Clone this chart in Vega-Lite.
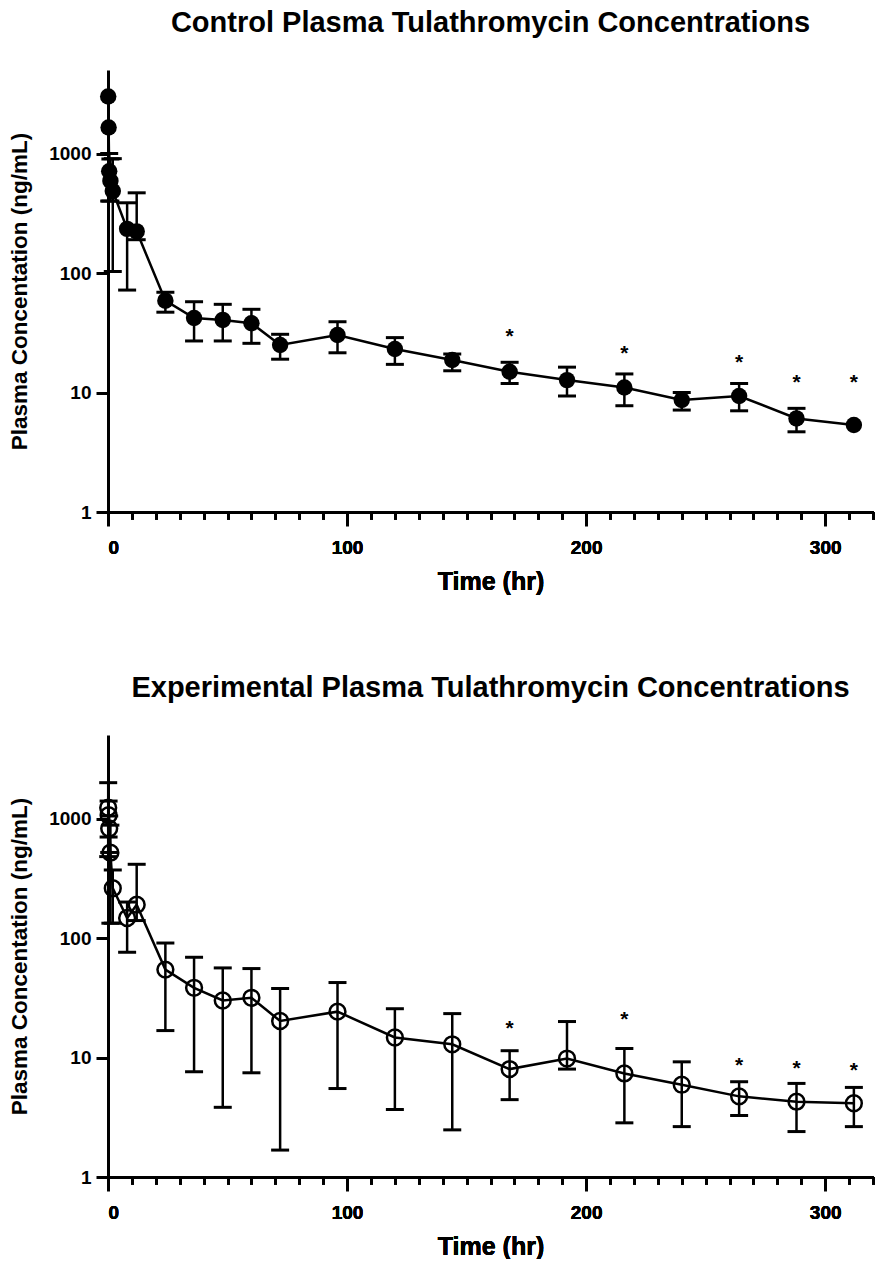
{
  "$schema": "https://vega.github.io/schema/vega-lite/v6.json",
  "background": "white",
  "padding": {"left": 8, "top": 9, "right": 0, "bottom": 0},
  "spacing": 80,
  "datasets": {
    "control": [
      {"t": 0.083, "c": 3000, "lo": null, "hi": null, "star": null},
      {"t": 0.25, "c": 1650, "lo": null, "hi": null, "star": null},
      {"t": 0.5, "c": 710, "lo": 400, "hi": 1000, "star": null},
      {"t": 1, "c": 590, "lo": 400, "hi": 900, "star": null},
      {"t": 2, "c": 485, "lo": 103, "hi": 906, "star": null},
      {"t": 8, "c": 234, "lo": 72, "hi": 387, "star": null},
      {"t": 12, "c": 223, "lo": 190, "hi": 469, "star": null},
      {"t": 24, "c": 58.7, "lo": 47, "hi": 69, "star": null},
      {"t": 36, "c": 42, "lo": 27, "hi": 57.5, "star": null},
      {"t": 48, "c": 40.5, "lo": 27, "hi": 54.7, "star": null},
      {"t": 60, "c": 38, "lo": 25.8, "hi": 49.7, "star": null},
      {"t": 72, "c": 25, "lo": 19, "hi": 30.7, "star": null},
      {"t": 96, "c": 30.3, "lo": 21.5, "hi": 39.1, "star": null},
      {"t": 120, "c": 23.1, "lo": 17.2, "hi": 28.8, "star": null},
      {"t": 144, "c": 18.7, "lo": 15.2, "hi": 21, "star": null},
      {"t": 168, "c": 14.9, "lo": 11.9, "hi": 17.9, "star": 32.4},
      {"t": 192, "c": 12.7, "lo": 9.35, "hi": 16.3, "star": null},
      {"t": 216, "c": 11.0, "lo": 7.75, "hi": 14.3, "star": 23.0},
      {"t": 240, "c": 8.65, "lo": 7.13, "hi": 10, "star": null},
      {"t": 264, "c": 9.35, "lo": 7.03, "hi": 11.9, "star": 19.6},
      {"t": 288, "c": 6.07, "lo": 4.69, "hi": 7.37, "star": 13.2},
      {"t": 312, "c": 5.34, "lo": null, "hi": null, "star": 13.2}
    ],
    "experimental": [
      {"t": 0.083, "c": 1230, "lo": 480, "hi": 1995, "star": null},
      {"t": 0.25, "c": 1066, "lo": 700, "hi": 1400, "star": null},
      {"t": 0.5, "c": 826, "lo": 520, "hi": 1050, "star": null},
      {"t": 1, "c": 518, "lo": 133, "hi": 880, "star": null},
      {"t": 2, "c": 261, "lo": 133, "hi": 371, "star": null},
      {"t": 8, "c": 147, "lo": 76, "hi": 200, "star": null},
      {"t": 12, "c": 190, "lo": 140, "hi": 414, "star": null},
      {"t": 24, "c": 54.4, "lo": 16.8, "hi": 90.8, "star": null},
      {"t": 36, "c": 38.3, "lo": 7.6, "hi": 69, "star": null},
      {"t": 48, "c": 30.0, "lo": 3.83, "hi": 56.2, "star": null},
      {"t": 60, "c": 31.6, "lo": 7.45, "hi": 55.5, "star": null},
      {"t": 72, "c": 20.2, "lo": 1.68, "hi": 37.8, "star": null},
      {"t": 96, "c": 24.2, "lo": 5.5, "hi": 42.4, "star": null},
      {"t": 120, "c": 14.7, "lo": 3.67, "hi": 25.6, "star": null},
      {"t": 144, "c": 12.9, "lo": 2.48, "hi": 23.3, "star": null},
      {"t": 168, "c": 8.0, "lo": 4.44, "hi": 11.4, "star": 18.9},
      {"t": 192, "c": 9.8, "lo": 8, "hi": 20, "star": null},
      {"t": 216, "c": 7.36, "lo": 2.84, "hi": 11.9, "star": 22.7},
      {"t": 240, "c": 5.92, "lo": 2.64, "hi": 9.2, "star": null},
      {"t": 264, "c": 4.73, "lo": 3.27, "hi": 6.27, "star": 9.4},
      {"t": 288, "c": 4.27, "lo": 2.4, "hi": 6.07, "star": 8.8},
      {"t": 312, "c": 4.14, "lo": 2.64, "hi": 5.62, "star": 8.5}
    ]
  },
  "config": {
    "view": {"stroke": null},
    "font": "Liberation Sans",
    "axis": {
      "grid": false,
      "domainColor": "black",
      "domainWidth": 3,
      "tickColor": "black",
      "tickWidth": 3,
      "labelFont": "Liberation Sans",
      "labelFontWeight": "bold",
      "labelFontSize": 19,
      "labelColor": "black",
      "titleFont": "Liberation Sans",
      "titleFontWeight": "bold",
      "titleColor": "black"
    },
    "title": {"font": "Liberation Sans", "fontSize": 29, "fontWeight": "bold", "color": "black", "anchor": "middle", "offset": 32}
  },
  "vconcat": [
    {
      "width": 765,
      "height": 442,
      "title": "Control Plasma Tulathromycin Concentrations",
      "data": {"name": "control"},
      "resolve": {"axis": {"x": "independent"}},
      "encoding": {
        "x": {
          "field": "t", "type": "quantitative", "title": "Time (hr)",
          "scale": {"domain": [0, 320], "nice": false, "zero": false},
          "axis": {
            "orient": "bottom",
            "values": [0,10,20,30,40,50,60,70,80,90,100,110,120,130,140,150,160,170,180,190,200,210,220,230,240,250,260,270,280,290,300,310,320],
            "format": "d",
            "labelExpr": "datum.value % 100 === 0 ? datum.label : ''",
            "tickSize": 7,
            "labelPadding": 19,
            "titleFontSize": 25,
            "titlePadding": 12
          }
        }
      },
      "layer": [
        {
          "mark": {"type": "rule", "color": "black", "strokeWidth": 2.5},
          "encoding": {
            "y": {"field": "lo", "type": "quantitative", "title": "Plasma Concentation (ng/mL)",
              "scale": {"type": "log", "domain": [1, 5000], "nice": false},
              "axis": {"values": [1, 10, 100, 1000], "format": "d", "tickSize": 12, "labelPadding": 5, "titleFontSize": 22.5, "titlePadding": 17}},
            "y2": {"field": "hi"}
          }
        },
        {
          "mark": {"type": "tick", "orient": "horizontal", "color": "black", "size": 18, "thickness": 3, "opacity": 1},
          "encoding": {"y": {"field": "lo", "type": "quantitative", "title": "Plasma Concentation (ng/mL)"}}
        },
        {
          "mark": {"type": "tick", "orient": "horizontal", "color": "black", "size": 18, "thickness": 3, "opacity": 1},
          "encoding": {"y": {"field": "hi", "type": "quantitative", "title": "Plasma Concentation (ng/mL)"}}
        },
        {
          "mark": {"type": "line", "color": "black", "strokeWidth": 2.5},
          "encoding": {
            "x": {"field": "t", "type": "quantitative", "axis": {"orient": "bottom", "values": [0, 100, 200, 300], "tickSize": 14, "labels": false, "domain": false, "title": null}},
            "y": {"field": "c", "type": "quantitative", "title": "Plasma Concentation (ng/mL)"}
          }
        },
        {
          "mark": {"type": "point", "shape": "circle", "filled": true, "color": "black", "size": 270, "opacity": 1},
          "encoding": {"y": {"field": "c", "type": "quantitative", "title": "Plasma Concentation (ng/mL)"}}
        },
        {
          "mark": {"type": "text", "text": "*", "fontSize": 21, "fontWeight": "bold", "color": "black", "baseline": "middle", "dy": 5},
          "encoding": {"y": {"field": "star", "type": "quantitative", "title": "Plasma Concentation (ng/mL)"}}
        }
      ]
    },
    {
      "width": 765,
      "height": 442,
      "title": "Experimental Plasma Tulathromycin  Concentrations",
      "data": {"name": "experimental"},
      "resolve": {"axis": {"x": "independent"}},
      "encoding": {
        "x": {
          "field": "t", "type": "quantitative", "title": "Time (hr)",
          "scale": {"domain": [0, 320], "nice": false, "zero": false},
          "axis": {
            "orient": "bottom",
            "values": [0,10,20,30,40,50,60,70,80,90,100,110,120,130,140,150,160,170,180,190,200,210,220,230,240,250,260,270,280,290,300,310,320],
            "format": "d",
            "labelExpr": "datum.value % 100 === 0 ? datum.label : ''",
            "tickSize": 7,
            "labelPadding": 19,
            "titleFontSize": 25,
            "titlePadding": 12
          }
        }
      },
      "layer": [
        {
          "mark": {"type": "rule", "color": "black", "strokeWidth": 2.5},
          "encoding": {
            "y": {"field": "lo", "type": "quantitative", "title": "Plasma Concentation (ng/mL)",
              "scale": {"type": "log", "domain": [1, 5000], "nice": false},
              "axis": {"values": [1, 10, 100, 1000], "format": "d", "tickSize": 12, "labelPadding": 5, "titleFontSize": 22.5, "titlePadding": 17}},
            "y2": {"field": "hi"}
          }
        },
        {
          "mark": {"type": "tick", "orient": "horizontal", "color": "black", "size": 18, "thickness": 3, "opacity": 1},
          "encoding": {"y": {"field": "lo", "type": "quantitative", "title": "Plasma Concentation (ng/mL)"}}
        },
        {
          "mark": {"type": "tick", "orient": "horizontal", "color": "black", "size": 18, "thickness": 3, "opacity": 1},
          "encoding": {"y": {"field": "hi", "type": "quantitative", "title": "Plasma Concentation (ng/mL)"}}
        },
        {
          "mark": {"type": "line", "color": "black", "strokeWidth": 2.5},
          "encoding": {
            "x": {"field": "t", "type": "quantitative", "axis": {"orient": "bottom", "values": [0, 100, 200, 300], "tickSize": 14, "labels": false, "domain": false, "title": null}},
            "y": {"field": "c", "type": "quantitative", "title": "Plasma Concentation (ng/mL)"}
          }
        },
        {
          "mark": {"type": "point", "shape": "circle", "filled": false, "color": "black", "size": 250, "strokeWidth": 2.5, "opacity": 1},
          "encoding": {"y": {"field": "c", "type": "quantitative", "title": "Plasma Concentation (ng/mL)"}}
        },
        {
          "mark": {"type": "text", "text": "*", "fontSize": 21, "fontWeight": "bold", "color": "black", "baseline": "middle", "dy": 5},
          "encoding": {"y": {"field": "star", "type": "quantitative", "title": "Plasma Concentation (ng/mL)"}}
        }
      ]
    }
  ]
}
